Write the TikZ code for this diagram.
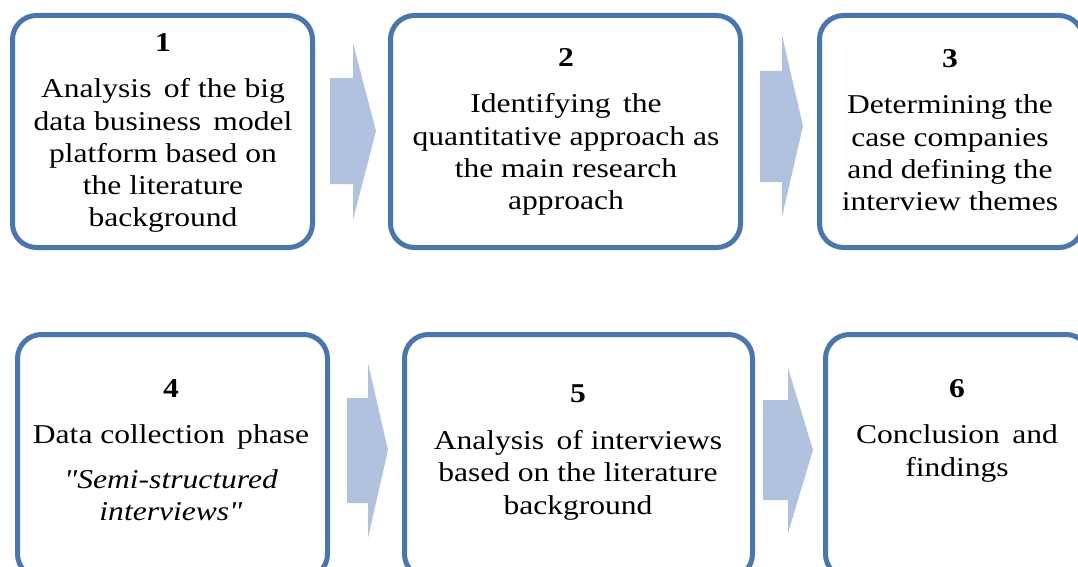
\documentclass[tikz,border=0pt]{standalone}
\usepackage{fontspec}
\setmainfont{Liberation Serif}[FakeStretch=1.16, Ligatures=TeXOff]
\usetikzlibrary{fit}
\definecolor{boxblue}{HTML}{4A76AC}
\definecolor{arrowfill}{HTML}{B0C2DE}
\begin{document}
\begin{tikzpicture}[x=0.75pt,y=-0.75pt,
  stepbox/.style={draw=boxblue, line width=3.75pt, rounded corners=18pt, inner sep=0pt, fill=white},
  steptext/.style={anchor=north, align=center, inner sep=0pt, font=\fontsize{20.4pt}{24.2pt}\selectfont},
  flow/.style={fill=arrowfill, draw=none}]
\useasboundingbox (0,0) rectangle (1078,567);
\clip (0,0) rectangle (1078,567);

% step frames
\node[stepbox, fit={(12.5,15.5) (312.5,247.5)}] (b1) {};
\node[stepbox, fit={(390.5,15.5) (740.5,247.5)}] (b2) {};
\node[stepbox, fit={(819.5,15.5) (1083,247.5)}] (b3) {};
\node[stepbox, fit={(17.5,334.5) (327.5,578)}] (b4) {};
\node[stepbox, fit={(404.5,334.5) (752.5,578)}] (b5) {};
\node[stepbox, fit={(825.5,334.5) (1090,578)}] (b6) {};

% step texts
\node[steptext] (t1) at (163,33.6) {\textbf{1}\\[10.3pt]Analysis\, of the big\\data business\, model\\platform based on\\the literature\\background};
\node[steptext] (t2) at (566,48.6) {\textbf{2}\\[10.3pt]Identifying\, the\\quantitative approach as\\the main research\\approach};
\node[steptext] (t3) at (950,49.6) {\textbf{3}\\[10.3pt]Determining the\\case companies\\and defining the\\interview themes};
\node[steptext] (t4) at (171,379.6) {\textbf{4}\\[10.3pt]Data collection\, phase\\[9.5pt]\textit{"Semi-structured}\\\textit{interviews"}};
\node[steptext] (t5) at (578,384.6) {\textbf{5}\\[11pt]Analysis\, of interviews\\based on the literature\\background};
\node[steptext] (t6) at (957,379.6) {\textbf{6}\\[10.3pt]Conclusion\, and\\findings};

% block arrows between steps
\coordinate (a1) at (330,131);
\coordinate (a2) at (760,126.5);
\coordinate (a3) at (347,450.5);
\coordinate (a4) at (763,450);
\fill[flow] (330,78) -- (353,78) -- (353,43) -- (376,131) -- (353,220) -- (353,184) -- (330,184) -- cycle;
\fill[flow] (760,71) -- (782,71) -- (782,35) -- (803,126) -- (782,217) -- (782,182) -- (760,182) -- cycle;
\fill[flow] (347,398) -- (368,398) -- (368,363) -- (388,450) -- (368,538) -- (368,503) -- (347,503) -- cycle;
\fill[flow] (763,400) -- (788,400) -- (788,368) -- (813,450) -- (788,533) -- (788,500) -- (763,500) -- cycle;
\end{tikzpicture}
\end{document}
